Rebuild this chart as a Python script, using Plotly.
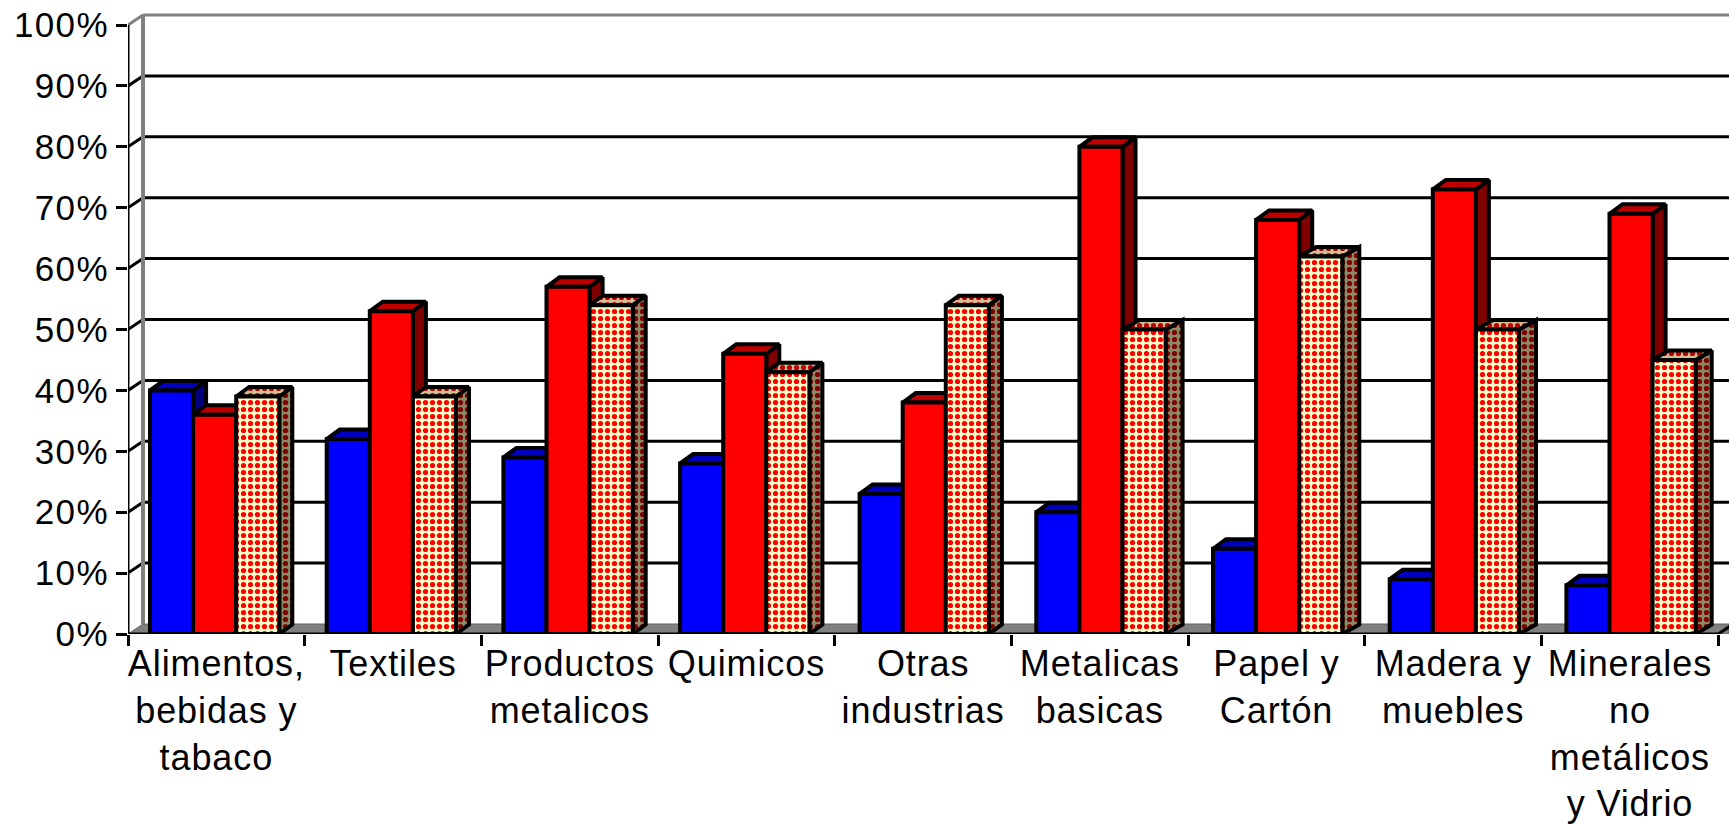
import plotly.graph_objects as go

categories = ["Alimentos,<br>bebidas y<br>tabaco", "Textiles", "Productos<br>metalicos", "Quimicos",
              "Otras<br>industrias", "Metalicas<br>basicas", "Papel y<br>Cartón", "Madera y<br>muebles",
              "Minerales<br>no<br>metálicos<br>y Vidrio"]
blue_values = [40, 32, 29, 28, 23, 20, 14, 9, 8]
red_values = [36, 53, 57, 46, 38, 80, 68, 73, 69]
pattern_values = [39, 39, 54, 43, 54, 50, 62, 50, 45]
y_ticks = [0, 10, 20, 30, 40, 50, 60, 70, 80, 90, 100]

PX_X = 176.7
PX_Y = 6.09
XMAX = (1729 - 128) / PX_X - 0.5
YMAX = 634 / PX_Y
WALL_DX = 15 / PX_X
WALL_DY = 10 / PX_Y
BAR_DX = 13 / PX_X
BAR_DY = 9.5 / PX_Y
BAR_W = 43.1 / PX_X
START = -0.5 + 22 / PX_X
LW = 3
BAR_LW = 4
GREY = "#808080"
# the reference's rendering places later groups slightly right and draws a deeper last side face
group_nudge = [0, 0, 0, 0, 2.8, 2.8, 2.8, 2.8, 2.8]
pattern_depth = [13, 13, 13, 13, 13, 17, 17, 17, 16]

series = [
    dict(v=blue_values, fill="#0000ff", side="#00007f", top="#0000bf", pat=None),
    dict(v=red_values, fill="#ff0000", side="#7f0000", top="#bf0000", pat=None),
    dict(v=pattern_values, fill="#ffffcc", side="#8a8a66", top="#d0c098",
         pat=("#ff0000", "#7f0000", "#bf0000")),
]
PAT_SIZE = 7
PAT_SOLID = 0.44


def pat(fg, bg):
    return dict(shape=".", fgcolor=fg, bgcolor=bg, size=PAT_SIZE, solidity=PAT_SOLID,
                fgopacity=1, fillmode="replace")


fig = go.Figure()
z = 1
n = len(categories)
xs = list(range(n))
for k, s in enumerate(series):
    off = START + k * BAR_W
    sx, sy, tx, ty = [], [], [], []
    for i, v in zip(xs, s["v"]):
        l = i + off + group_nudge[i] / PX_X
        r = l + BAR_W
        dx = (pattern_depth[i] / PX_X) if s["pat"] else BAR_DX
        sx += [r, r + dx, r + dx, r, r, None]
        sy += [0, BAR_DY, v + BAR_DY, v, 0, None]
        tx += [l, l + dx, r + dx, r, l, None]
        ty += [v, v + BAR_DY, v + BAR_DY, v, v, None]
    for px, py, col, pc in ((sx, sy, s["side"], 1), (tx, ty, s["top"], 2)):
        extra = {}
        if s["pat"]:
            extra["fillpattern"] = pat(s["pat"][pc], col)
        fig.add_trace(go.Scatter(x=px, y=py, mode="lines", fill="toself", fillcolor=col,
                                 line=dict(color="black", width=BAR_LW), cliponaxis=False,
                                 hoverinfo="skip", showlegend=False, zorder=z, **extra))
    z += 1
    marker = dict(color=s["fill"], line=dict(color="black", width=BAR_LW))
    if s["pat"]:
        marker["pattern"] = pat(s["pat"][0], s["fill"])
    fig.add_trace(go.Bar(x=xs, y=s["v"], width=BAR_W, offset=[off + g / PX_X for g in group_nudge],
                         marker=marker, cliponaxis=False, showlegend=False, zorder=z))
    z += 1

x0 = -0.5
x1 = n - 0.5
fig.add_trace(go.Scatter(x=[x0, x0], y=[0, 100], mode="lines", line=dict(color="black", width=LW),
                         cliponaxis=False, hoverinfo="skip", showlegend=False, zorder=z))
fig.add_trace(go.Scatter(x=[x0, x1], y=[0, 0], mode="lines", line=dict(color="black", width=LW),
                         cliponaxis=False, hoverinfo="skip", showlegend=False, zorder=z))

shapes = []
shapes.append(dict(type="path", layer="below", xref="x", yref="y", fillcolor=GREY,
                   line=dict(color="#606060", width=1),
                   path=f"M {x0} 0 L {x0+WALL_DX} {WALL_DY} L {XMAX} {WALL_DY} L {XMAX} 0 Z"))
for t in y_ticks[1:-1]:
    shapes.append(dict(type="line", layer="below", x0=x0 + WALL_DX, x1=XMAX, y0=t + WALL_DY, y1=t + WALL_DY,
                       line=dict(color="black", width=LW)))
    shapes.append(dict(type="line", layer="below", x0=x0, x1=x0 + WALL_DX, y0=t, y1=t + WALL_DY,
                       line=dict(color="black", width=LW)))
shapes.append(dict(type="line", layer="below", x0=x0 + WALL_DX, x1=x0 + WALL_DX, y0=WALL_DY, y1=100 + WALL_DY,
                   line=dict(color=GREY, width=4)))
shapes.append(dict(type="line", layer="below", x0=x0 + WALL_DX, x1=XMAX, y0=100 + WALL_DY, y1=100 + WALL_DY,
                   line=dict(color=GREY, width=LW)))
shapes.append(dict(type="line", layer="below", x0=x0, x1=x0 + WALL_DX, y0=100, y1=100 + WALL_DY,
                   line=dict(color=GREY, width=LW)))
shapes.append(dict(type="line", layer="below", x0=x1, x1=x1 + WALL_DX, y0=0, y1=WALL_DY,
                   line=dict(color="black", width=LW)))

fig.update_layout(
    width=1729, height=824, autosize=False,
    margin=dict(l=128, r=0, t=0, b=190, pad=0),
    paper_bgcolor="white", plot_bgcolor="white",
    barmode="overlay", showlegend=False, shapes=shapes,
    font=dict(family="Liberation Sans, Arial, sans-serif", color="black"),
    xaxis=dict(range=[x0, XMAX], tickmode="array", tickvals=xs, ticktext=categories,
               ticks="", showgrid=False, zeroline=False, showline=False, tickangle=0,
               tickfont=dict(size=36, color="black"), ticklabelstandoff=5,
               minor=dict(tickmode="array", tickvals=[i - 0.5 for i in range(n + 1)], ticks="outside",
                          ticklen=11, tickwidth=LW, tickcolor="black", showgrid=False)),
    yaxis=dict(range=[0, YMAX], tickmode="array", tickvals=y_ticks, ticktext=[f"{t}%" for t in y_ticks],
               ticks="outside", ticklen=11, tickwidth=LW, tickcolor="black", showgrid=False,
               zeroline=False, showline=False, tickfont=dict(size=35, color="black")),
)
css = (".xtick text{letter-spacing:0.9px}.ytick text{letter-spacing:1.4px}")
post = ("document.body.style.margin='0';document.body.style.overflow='hidden';"
        "var st=document.createElement('style');st.textContent='" + css + "';document.head.appendChild(st);")
fig.write_html("out.html", post_script=post, config={"displayModeBar": False})
